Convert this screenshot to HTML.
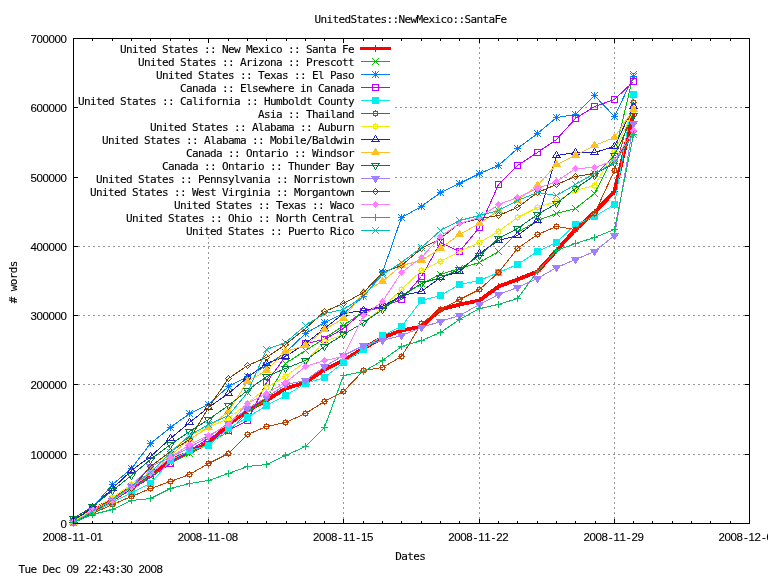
<!DOCTYPE html>
<html lang="en">
<head>
<meta charset="utf-8">
<title>UnitedStates::NewMexico::SantaFe</title>
<style>
html,body{margin:0;padding:0;background:#fff;overflow:hidden}
svg{display:block}
text{font-family:"DejaVu Sans Mono", "Liberation Mono", monospace;font-size:11px;fill:#000;stroke:#000;stroke-width:.12px;white-space:pre;text-anchor:middle}
.n{font-family:"Liberation Sans","DejaVu Sans",sans-serif;font-size:11.5px}
.g{stroke:#999;stroke-width:1;stroke-dasharray:2 3;fill:none}
</style>
</head>
<body>
<svg width="768" height="576" viewBox="0 0 768 576">
<rect width="768" height="576" fill="#fff"/>
<g shape-rendering="crispEdges"><path class="g" d="M73 454.5H749"/><path class="g" d="M73 384.5H749"/><path class="g" d="M73 315.5H749"/><path class="g" d="M73 246.5H749"/><path class="g" d="M395 177.5H749"/><path class="g" d="M395 107.5H749"/><path class="g" d="M208.5 524V237"/><path class="g" d="M343.5 524V237"/><path class="g" d="M479.5 524V39"/><path class="g" d="M614.5 524V39"/></g>
<path d="M73.5 523.5v-4.5M73.5 38.5v4.5M92.8 523.5v-2.5M92.8 38.5v2.5M112.1 523.5v-2.5M112.1 38.5v2.5M131.4 523.5v-2.5M131.4 38.5v2.5M150.8 523.5v-2.5M150.8 38.5v2.5M170.1 523.5v-2.5M170.1 38.5v2.5M189.4 523.5v-2.5M189.4 38.5v2.5M208.7 523.5v-4.5M208.7 38.5v4.5M228.0 523.5v-2.5M228.0 38.5v2.5M247.3 523.5v-2.5M247.3 38.5v2.5M266.6 523.5v-2.5M266.6 38.5v2.5M286.0 523.5v-2.5M286.0 38.5v2.5M305.3 523.5v-2.5M305.3 38.5v2.5M324.6 523.5v-2.5M324.6 38.5v2.5M343.9 523.5v-4.5M343.9 38.5v4.5M363.2 523.5v-2.5M363.2 38.5v2.5M382.5 523.5v-2.5M382.5 38.5v2.5M401.8 523.5v-2.5M401.8 38.5v2.5M421.2 523.5v-2.5M421.2 38.5v2.5M440.5 523.5v-2.5M440.5 38.5v2.5M459.8 523.5v-2.5M459.8 38.5v2.5M479.1 523.5v-4.5M479.1 38.5v4.5M498.4 523.5v-2.5M498.4 38.5v2.5M517.7 523.5v-2.5M517.7 38.5v2.5M537.0 523.5v-2.5M537.0 38.5v2.5M556.4 523.5v-2.5M556.4 38.5v2.5M575.7 523.5v-2.5M575.7 38.5v2.5M595.0 523.5v-2.5M595.0 38.5v2.5M614.3 523.5v-4.5M614.3 38.5v4.5M633.6 523.5v-2.5M633.6 38.5v2.5M652.9 523.5v-2.5M652.9 38.5v2.5M672.2 523.5v-2.5M672.2 38.5v2.5M691.6 523.5v-2.5M691.6 38.5v2.5M710.9 523.5v-2.5M710.9 38.5v2.5M730.2 523.5v-2.5M730.2 38.5v2.5M749.5 523.5v-4.5M749.5 38.5v4.5M73.5 523.5h4.5M749.5 523.5h-4.5M73.5 454.2h4.5M749.5 454.2h-4.5M73.5 384.9h4.5M749.5 384.9h-4.5M73.5 315.6h4.5M749.5 315.6h-4.5M73.5 246.4h4.5M749.5 246.4h-4.5M73.5 177.1h4.5M749.5 177.1h-4.5M73.5 107.8h4.5M749.5 107.8h-4.5M73.5 38.5h4.5M749.5 38.5h-4.5" stroke="#000" stroke-width="1" fill="none" shape-rendering="crispEdges"/>
<g class="s" shape-rendering="crispEdges">
<text x="123.3 129.3 135.3 141.3 147.3 153.3 159.3 165.3 171.3 177.3 183.3 189.3 195.3 201.3 207.3 213.3 219.3 225.3 231.3 237.3 243.3 249.3 255.3 261.3 267.3 273.3 279.3 285.3 291.3 297.3 303.3 309.3 315.3 321.3 327.3 333.3 339.3 345.3 351.3" y="53.2">United States :: New Mexico :: Santa Fe</text>
<path d="M360 48.5H391" stroke="#ff0000" stroke-width="3" fill="none"/>
<path d="M372 48.5H379M375.5 45V52" stroke="#ff0000" fill="none"/>
<polyline points="73.5,521.5 92.5,510.5 112.5,499.5 131.5,487.5 150.5,474.5 170.5,460.5 189.5,452.5 208.5,442.5 228.5,424.5 247.5,410.5 266.5,400.5 285.5,388.5 305.5,382.5 324.5,369.5 343.5,360.5 363.5,348.5 382.5,337.5 401.5,330.5 421.5,326.5 440.5,309.5 459.5,304.5 479.5,300.5 498.5,286.5 517.5,279.5 537.5,271.5 556.5,250.5 575.5,229.5 594.5,212.5 614.5,191.5 633.5,113.5" stroke="#ff0000" stroke-width="3.8" fill="none" stroke-linejoin="round"/>
<path d="M70 521.5H77M73.5 518V525" stroke="#ff0000" fill="none"/><path d="M89 510.5H96M92.5 507V514" stroke="#ff0000" fill="none"/><path d="M109 499.5H116M112.5 496V503" stroke="#ff0000" fill="none"/><path d="M128 487.5H135M131.5 484V491" stroke="#ff0000" fill="none"/><path d="M147 474.5H154M150.5 471V478" stroke="#ff0000" fill="none"/><path d="M167 460.5H174M170.5 457V464" stroke="#ff0000" fill="none"/><path d="M186 452.5H193M189.5 449V456" stroke="#ff0000" fill="none"/><path d="M205 442.5H212M208.5 439V446" stroke="#ff0000" fill="none"/><path d="M225 424.5H232M228.5 421V428" stroke="#ff0000" fill="none"/><path d="M244 410.5H251M247.5 407V414" stroke="#ff0000" fill="none"/><path d="M263 400.5H270M266.5 397V404" stroke="#ff0000" fill="none"/><path d="M282 388.5H289M285.5 385V392" stroke="#ff0000" fill="none"/><path d="M302 382.5H309M305.5 379V386" stroke="#ff0000" fill="none"/><path d="M321 369.5H328M324.5 366V373" stroke="#ff0000" fill="none"/><path d="M340 360.5H347M343.5 357V364" stroke="#ff0000" fill="none"/><path d="M360 348.5H367M363.5 345V352" stroke="#ff0000" fill="none"/><path d="M379 337.5H386M382.5 334V341" stroke="#ff0000" fill="none"/><path d="M398 330.5H405M401.5 327V334" stroke="#ff0000" fill="none"/><path d="M418 326.5H425M421.5 323V330" stroke="#ff0000" fill="none"/><path d="M437 309.5H444M440.5 306V313" stroke="#ff0000" fill="none"/><path d="M456 304.5H463M459.5 301V308" stroke="#ff0000" fill="none"/><path d="M476 300.5H483M479.5 297V304" stroke="#ff0000" fill="none"/><path d="M495 286.5H502M498.5 283V290" stroke="#ff0000" fill="none"/><path d="M514 279.5H521M517.5 276V283" stroke="#ff0000" fill="none"/><path d="M534 271.5H541M537.5 268V275" stroke="#ff0000" fill="none"/><path d="M553 250.5H560M556.5 247V254" stroke="#ff0000" fill="none"/><path d="M572 229.5H579M575.5 226V233" stroke="#ff0000" fill="none"/><path d="M591 212.5H598M594.5 209V216" stroke="#ff0000" fill="none"/><path d="M611 191.5H618M614.5 188V195" stroke="#ff0000" fill="none"/><path d="M630 113.5H637M633.5 110V117" stroke="#ff0000" fill="none"/>
</g>
<g class="s" shape-rendering="crispEdges">
<text x="141.3 147.3 153.3 159.3 165.3 171.3 177.3 183.3 189.3 195.3 201.3 207.3 213.3 219.3 225.3 231.3 237.3 243.3 249.3 255.3 261.3 267.3 273.3 279.3 285.3 291.3 297.3 303.3 309.3 315.3 321.3 327.3 333.3 339.3 345.3 351.3" y="66.2">United States :: Arizona :: Prescott</text>
<path d="M361 61.5H390" stroke="#00c000" stroke-width="1" fill="none"/>
<path d="M372 58L379 65M372 65L379 58" stroke="#00c000" fill="none"/>
<polyline points="73.5,522.5 92.5,511.5 112.5,500.5 131.5,488.5 150.5,476.5 170.5,463.5 189.5,453.5 208.5,443.5 228.5,431.5 247.5,412.5 266.5,399.5 285.5,363.5 305.5,350.5 324.5,338.5 343.5,325.5 363.5,311.5 382.5,307.5 401.5,296.5 421.5,283.5 440.5,274.5 459.5,268.5 479.5,262.5 498.5,251.5 517.5,232.5 537.5,220.5 556.5,213.5 575.5,208.5 594.5,193.5 614.5,154.5 633.5,74.5" stroke="#00c000" stroke-width="1" fill="none" stroke-linejoin="round"/>
<path d="M70 519L77 526M70 526L77 519" stroke="#00c000" fill="none"/><path d="M89 508L96 515M89 515L96 508" stroke="#00c000" fill="none"/><path d="M109 497L116 504M109 504L116 497" stroke="#00c000" fill="none"/><path d="M128 485L135 492M128 492L135 485" stroke="#00c000" fill="none"/><path d="M147 473L154 480M147 480L154 473" stroke="#00c000" fill="none"/><path d="M167 460L174 467M167 467L174 460" stroke="#00c000" fill="none"/><path d="M186 450L193 457M186 457L193 450" stroke="#00c000" fill="none"/><path d="M205 440L212 447M205 447L212 440" stroke="#00c000" fill="none"/><path d="M225 428L232 435M225 435L232 428" stroke="#00c000" fill="none"/><path d="M244 409L251 416M244 416L251 409" stroke="#00c000" fill="none"/><path d="M263 396L270 403M263 403L270 396" stroke="#00c000" fill="none"/><path d="M282 360L289 367M282 367L289 360" stroke="#00c000" fill="none"/><path d="M302 347L309 354M302 354L309 347" stroke="#00c000" fill="none"/><path d="M321 335L328 342M321 342L328 335" stroke="#00c000" fill="none"/><path d="M340 322L347 329M340 329L347 322" stroke="#00c000" fill="none"/><path d="M360 308L367 315M360 315L367 308" stroke="#00c000" fill="none"/><path d="M379 304L386 311M379 311L386 304" stroke="#00c000" fill="none"/><path d="M398 293L405 300M398 300L405 293" stroke="#00c000" fill="none"/><path d="M418 280L425 287M418 287L425 280" stroke="#00c000" fill="none"/><path d="M437 271L444 278M437 278L444 271" stroke="#00c000" fill="none"/><path d="M456 265L463 272M456 272L463 265" stroke="#00c000" fill="none"/><path d="M476 259L483 266M476 266L483 259" stroke="#00c000" fill="none"/><path d="M495 248L502 255M495 255L502 248" stroke="#00c000" fill="none"/><path d="M514 229L521 236M514 236L521 229" stroke="#00c000" fill="none"/><path d="M534 217L541 224M534 224L541 217" stroke="#00c000" fill="none"/><path d="M553 210L560 217M553 217L560 210" stroke="#00c000" fill="none"/><path d="M572 205L579 212M572 212L579 205" stroke="#00c000" fill="none"/><path d="M591 190L598 197M591 197L598 190" stroke="#00c000" fill="none"/><path d="M611 151L618 158M611 158L618 151" stroke="#00c000" fill="none"/><path d="M630 71L637 78M630 78L637 71" stroke="#00c000" fill="none"/>
</g>
<g class="s" shape-rendering="crispEdges">
<text x="159.3 165.3 171.3 177.3 183.3 189.3 195.3 201.3 207.3 213.3 219.3 225.3 231.3 237.3 243.3 249.3 255.3 261.3 267.3 273.3 279.3 285.3 291.3 297.3 303.3 309.3 315.3 321.3 327.3 333.3 339.3 345.3 351.3" y="79.2">United States :: Texas :: El Paso</text>
<path d="M361 74.5H390" stroke="#0080ff" stroke-width="1" fill="none"/>
<path d="M372 74.5H379M375.5 71V78M372 71L379 78M372 78L379 71" stroke="#0080ff" fill="none"/>
<polyline points="73.5,520.5 92.5,507.5 112.5,484.5 131.5,468.5 150.5,443.5 170.5,427.5 189.5,413.5 208.5,404.5 228.5,386.5 247.5,376.5 266.5,365.5 285.5,352.5 305.5,333.5 324.5,322.5 343.5,313.5 363.5,296.5 382.5,272.5 401.5,217.5 421.5,206.5 440.5,192.5 459.5,183.5 479.5,173.5 498.5,165.5 517.5,148.5 537.5,133.5 556.5,117.5 575.5,114.5 594.5,95.5 614.5,116.5 633.5,76.5" stroke="#0080ff" stroke-width="1" fill="none" stroke-linejoin="round"/>
<path d="M70 520.5H77M73.5 517V524M70 517L77 524M70 524L77 517" stroke="#0080ff" fill="none"/><path d="M89 507.5H96M92.5 504V511M89 504L96 511M89 511L96 504" stroke="#0080ff" fill="none"/><path d="M109 484.5H116M112.5 481V488M109 481L116 488M109 488L116 481" stroke="#0080ff" fill="none"/><path d="M128 468.5H135M131.5 465V472M128 465L135 472M128 472L135 465" stroke="#0080ff" fill="none"/><path d="M147 443.5H154M150.5 440V447M147 440L154 447M147 447L154 440" stroke="#0080ff" fill="none"/><path d="M167 427.5H174M170.5 424V431M167 424L174 431M167 431L174 424" stroke="#0080ff" fill="none"/><path d="M186 413.5H193M189.5 410V417M186 410L193 417M186 417L193 410" stroke="#0080ff" fill="none"/><path d="M205 404.5H212M208.5 401V408M205 401L212 408M205 408L212 401" stroke="#0080ff" fill="none"/><path d="M225 386.5H232M228.5 383V390M225 383L232 390M225 390L232 383" stroke="#0080ff" fill="none"/><path d="M244 376.5H251M247.5 373V380M244 373L251 380M244 380L251 373" stroke="#0080ff" fill="none"/><path d="M263 365.5H270M266.5 362V369M263 362L270 369M263 369L270 362" stroke="#0080ff" fill="none"/><path d="M282 352.5H289M285.5 349V356M282 349L289 356M282 356L289 349" stroke="#0080ff" fill="none"/><path d="M302 333.5H309M305.5 330V337M302 330L309 337M302 337L309 330" stroke="#0080ff" fill="none"/><path d="M321 322.5H328M324.5 319V326M321 319L328 326M321 326L328 319" stroke="#0080ff" fill="none"/><path d="M340 313.5H347M343.5 310V317M340 310L347 317M340 317L347 310" stroke="#0080ff" fill="none"/><path d="M360 296.5H367M363.5 293V300M360 293L367 300M360 300L367 293" stroke="#0080ff" fill="none"/><path d="M379 272.5H386M382.5 269V276M379 269L386 276M379 276L386 269" stroke="#0080ff" fill="none"/><path d="M398 217.5H405M401.5 214V221M398 214L405 221M398 221L405 214" stroke="#0080ff" fill="none"/><path d="M418 206.5H425M421.5 203V210M418 203L425 210M418 210L425 203" stroke="#0080ff" fill="none"/><path d="M437 192.5H444M440.5 189V196M437 189L444 196M437 196L444 189" stroke="#0080ff" fill="none"/><path d="M456 183.5H463M459.5 180V187M456 180L463 187M456 187L463 180" stroke="#0080ff" fill="none"/><path d="M476 173.5H483M479.5 170V177M476 170L483 177M476 177L483 170" stroke="#0080ff" fill="none"/><path d="M495 165.5H502M498.5 162V169M495 162L502 169M495 169L502 162" stroke="#0080ff" fill="none"/><path d="M514 148.5H521M517.5 145V152M514 145L521 152M514 152L521 145" stroke="#0080ff" fill="none"/><path d="M534 133.5H541M537.5 130V137M534 130L541 137M534 137L541 130" stroke="#0080ff" fill="none"/><path d="M553 117.5H560M556.5 114V121M553 114L560 121M553 121L560 114" stroke="#0080ff" fill="none"/><path d="M572 114.5H579M575.5 111V118M572 111L579 118M572 118L579 111" stroke="#0080ff" fill="none"/><path d="M591 95.5H598M594.5 92V99M591 92L598 99M591 99L598 92" stroke="#0080ff" fill="none"/><path d="M611 116.5H618M614.5 113V120M611 113L618 120M611 120L618 113" stroke="#0080ff" fill="none"/><path d="M630 76.5H637M633.5 73V80M630 73L637 80M630 80L637 73" stroke="#0080ff" fill="none"/>
</g>
<g class="s" shape-rendering="crispEdges">
<text x="183.3 189.3 195.3 201.3 207.3 213.3 219.3 225.3 231.3 237.3 243.3 249.3 255.3 261.3 267.3 273.3 279.3 285.3 291.3 297.3 303.3 309.3 315.3 321.3 327.3 333.3 339.3 345.3 351.3" y="92.2">Canada :: Elsewhere in Canada</text>
<path d="M361 87.5H390" stroke="#c000ff" stroke-width="1" fill="none"/>
<rect x="372.5" y="84.5" width="6" height="6" stroke="#c000ff" fill="none"/>
<polyline points="73.5,522.5 92.5,511.5 112.5,500.5 131.5,489.5 150.5,477.5 170.5,463.5 189.5,450.5 208.5,438.5 228.5,430.5 247.5,420.5 266.5,382.5 285.5,356.5 305.5,343.5 324.5,339.5 343.5,328.5 363.5,311.5 382.5,306.5 401.5,299.5 421.5,276.5 440.5,242.5 459.5,251.5 479.5,227.5 498.5,184.5 517.5,165.5 537.5,152.5 556.5,139.5 575.5,118.5 594.5,106.5 614.5,99.5 633.5,81.5" stroke="#c000ff" stroke-width="1" fill="none" stroke-linejoin="round"/>
<rect x="70.5" y="519.5" width="6" height="6" stroke="#c000ff" fill="none"/><rect x="89.5" y="508.5" width="6" height="6" stroke="#c000ff" fill="none"/><rect x="109.5" y="497.5" width="6" height="6" stroke="#c000ff" fill="none"/><rect x="128.5" y="486.5" width="6" height="6" stroke="#c000ff" fill="none"/><rect x="147.5" y="474.5" width="6" height="6" stroke="#c000ff" fill="none"/><rect x="167.5" y="460.5" width="6" height="6" stroke="#c000ff" fill="none"/><rect x="186.5" y="447.5" width="6" height="6" stroke="#c000ff" fill="none"/><rect x="205.5" y="435.5" width="6" height="6" stroke="#c000ff" fill="none"/><rect x="225.5" y="427.5" width="6" height="6" stroke="#c000ff" fill="none"/><rect x="244.5" y="417.5" width="6" height="6" stroke="#c000ff" fill="none"/><rect x="263.5" y="379.5" width="6" height="6" stroke="#c000ff" fill="none"/><rect x="282.5" y="353.5" width="6" height="6" stroke="#c000ff" fill="none"/><rect x="302.5" y="340.5" width="6" height="6" stroke="#c000ff" fill="none"/><rect x="321.5" y="336.5" width="6" height="6" stroke="#c000ff" fill="none"/><rect x="340.5" y="325.5" width="6" height="6" stroke="#c000ff" fill="none"/><rect x="360.5" y="308.5" width="6" height="6" stroke="#c000ff" fill="none"/><rect x="379.5" y="303.5" width="6" height="6" stroke="#c000ff" fill="none"/><rect x="398.5" y="296.5" width="6" height="6" stroke="#c000ff" fill="none"/><rect x="418.5" y="273.5" width="6" height="6" stroke="#c000ff" fill="none"/><rect x="437.5" y="239.5" width="6" height="6" stroke="#c000ff" fill="none"/><rect x="456.5" y="248.5" width="6" height="6" stroke="#c000ff" fill="none"/><rect x="476.5" y="224.5" width="6" height="6" stroke="#c000ff" fill="none"/><rect x="495.5" y="181.5" width="6" height="6" stroke="#c000ff" fill="none"/><rect x="514.5" y="162.5" width="6" height="6" stroke="#c000ff" fill="none"/><rect x="534.5" y="149.5" width="6" height="6" stroke="#c000ff" fill="none"/><rect x="553.5" y="136.5" width="6" height="6" stroke="#c000ff" fill="none"/><rect x="572.5" y="115.5" width="6" height="6" stroke="#c000ff" fill="none"/><rect x="591.5" y="103.5" width="6" height="6" stroke="#c000ff" fill="none"/><rect x="611.5" y="96.5" width="6" height="6" stroke="#c000ff" fill="none"/><rect x="630.5" y="78.5" width="6" height="6" stroke="#c000ff" fill="none"/>
</g>
<g class="s" shape-rendering="crispEdges">
<text x="81.3 87.3 93.3 99.3 105.3 111.3 117.3 123.3 129.3 135.3 141.3 147.3 153.3 159.3 165.3 171.3 177.3 183.3 189.3 195.3 201.3 207.3 213.3 219.3 225.3 231.3 237.3 243.3 249.3 255.3 261.3 267.3 273.3 279.3 285.3 291.3 297.3 303.3 309.3 315.3 321.3 327.3 333.3 339.3 345.3 351.3" y="105.2">United States :: California :: Humboldt County</text>
<path d="M361 100.5H390" stroke="#00eeee" stroke-width="1" fill="none"/>
<rect x="372" y="97" width="7" height="7" fill="#00eeee"/>
<polyline points="73.5,522.5 92.5,512.5 112.5,502.5 131.5,492.5 150.5,483.5 170.5,460.5 189.5,450.5 208.5,445.5 228.5,428.5 247.5,417.5 266.5,405.5 285.5,395.5 305.5,383.5 324.5,377.5 343.5,362.5 363.5,349.5 382.5,335.5 401.5,326.5 421.5,300.5 440.5,295.5 459.5,284.5 479.5,280.5 498.5,272.5 517.5,264.5 537.5,251.5 556.5,242.5 575.5,224.5 594.5,216.5 614.5,204.5 633.5,94.5" stroke="#00eeee" stroke-width="1" fill="none" stroke-linejoin="round"/>
<rect x="70" y="519" width="7" height="7" fill="#00eeee"/><rect x="89" y="509" width="7" height="7" fill="#00eeee"/><rect x="109" y="499" width="7" height="7" fill="#00eeee"/><rect x="128" y="489" width="7" height="7" fill="#00eeee"/><rect x="147" y="480" width="7" height="7" fill="#00eeee"/><rect x="167" y="457" width="7" height="7" fill="#00eeee"/><rect x="186" y="447" width="7" height="7" fill="#00eeee"/><rect x="205" y="442" width="7" height="7" fill="#00eeee"/><rect x="225" y="425" width="7" height="7" fill="#00eeee"/><rect x="244" y="414" width="7" height="7" fill="#00eeee"/><rect x="263" y="402" width="7" height="7" fill="#00eeee"/><rect x="282" y="392" width="7" height="7" fill="#00eeee"/><rect x="302" y="380" width="7" height="7" fill="#00eeee"/><rect x="321" y="374" width="7" height="7" fill="#00eeee"/><rect x="340" y="359" width="7" height="7" fill="#00eeee"/><rect x="360" y="346" width="7" height="7" fill="#00eeee"/><rect x="379" y="332" width="7" height="7" fill="#00eeee"/><rect x="398" y="323" width="7" height="7" fill="#00eeee"/><rect x="418" y="297" width="7" height="7" fill="#00eeee"/><rect x="437" y="292" width="7" height="7" fill="#00eeee"/><rect x="456" y="281" width="7" height="7" fill="#00eeee"/><rect x="476" y="277" width="7" height="7" fill="#00eeee"/><rect x="495" y="269" width="7" height="7" fill="#00eeee"/><rect x="514" y="261" width="7" height="7" fill="#00eeee"/><rect x="534" y="248" width="7" height="7" fill="#00eeee"/><rect x="553" y="239" width="7" height="7" fill="#00eeee"/><rect x="572" y="221" width="7" height="7" fill="#00eeee"/><rect x="591" y="213" width="7" height="7" fill="#00eeee"/><rect x="611" y="201" width="7" height="7" fill="#00eeee"/><rect x="630" y="91" width="7" height="7" fill="#00eeee"/>
</g>
<g class="s" shape-rendering="crispEdges">
<text x="261.3 267.3 273.3 279.3 285.3 291.3 297.3 303.3 309.3 315.3 321.3 327.3 333.3 339.3 345.3 351.3" y="118.2">Asia :: Thailand</text>
<path d="M361 113.5H390" stroke="#c04000" stroke-width="1" fill="none"/>
<path d="M373.5 111.5h4v4h-4zM375.5 110v1M375.5 116v1M372 113.5h1M378 113.5h1" stroke="#c04000" fill="none"/>
<polyline points="73.5,522.5 92.5,513.5 112.5,504.5 131.5,496.5 150.5,488.5 170.5,481.5 189.5,474.5 208.5,463.5 228.5,453.5 247.5,434.5 266.5,426.5 285.5,422.5 305.5,413.5 324.5,401.5 343.5,391.5 363.5,370.5 382.5,367.5 401.5,356.5 421.5,323.5 440.5,309.5 459.5,299.5 479.5,289.5 498.5,272.5 517.5,248.5 537.5,234.5 556.5,226.5 575.5,229.5 594.5,213.5 614.5,170.5 633.5,102.5" stroke="#c04000" stroke-width="1" fill="none" stroke-linejoin="round"/>
<path d="M71.5 520.5h4v4h-4zM73.5 519v1M73.5 525v1M70 522.5h1M76 522.5h1" stroke="#c04000" fill="none"/><path d="M90.5 511.5h4v4h-4zM92.5 510v1M92.5 516v1M89 513.5h1M95 513.5h1" stroke="#c04000" fill="none"/><path d="M110.5 502.5h4v4h-4zM112.5 501v1M112.5 507v1M109 504.5h1M115 504.5h1" stroke="#c04000" fill="none"/><path d="M129.5 494.5h4v4h-4zM131.5 493v1M131.5 499v1M128 496.5h1M134 496.5h1" stroke="#c04000" fill="none"/><path d="M148.5 486.5h4v4h-4zM150.5 485v1M150.5 491v1M147 488.5h1M153 488.5h1" stroke="#c04000" fill="none"/><path d="M168.5 479.5h4v4h-4zM170.5 478v1M170.5 484v1M167 481.5h1M173 481.5h1" stroke="#c04000" fill="none"/><path d="M187.5 472.5h4v4h-4zM189.5 471v1M189.5 477v1M186 474.5h1M192 474.5h1" stroke="#c04000" fill="none"/><path d="M206.5 461.5h4v4h-4zM208.5 460v1M208.5 466v1M205 463.5h1M211 463.5h1" stroke="#c04000" fill="none"/><path d="M226.5 451.5h4v4h-4zM228.5 450v1M228.5 456v1M225 453.5h1M231 453.5h1" stroke="#c04000" fill="none"/><path d="M245.5 432.5h4v4h-4zM247.5 431v1M247.5 437v1M244 434.5h1M250 434.5h1" stroke="#c04000" fill="none"/><path d="M264.5 424.5h4v4h-4zM266.5 423v1M266.5 429v1M263 426.5h1M269 426.5h1" stroke="#c04000" fill="none"/><path d="M283.5 420.5h4v4h-4zM285.5 419v1M285.5 425v1M282 422.5h1M288 422.5h1" stroke="#c04000" fill="none"/><path d="M303.5 411.5h4v4h-4zM305.5 410v1M305.5 416v1M302 413.5h1M308 413.5h1" stroke="#c04000" fill="none"/><path d="M322.5 399.5h4v4h-4zM324.5 398v1M324.5 404v1M321 401.5h1M327 401.5h1" stroke="#c04000" fill="none"/><path d="M341.5 389.5h4v4h-4zM343.5 388v1M343.5 394v1M340 391.5h1M346 391.5h1" stroke="#c04000" fill="none"/><path d="M361.5 368.5h4v4h-4zM363.5 367v1M363.5 373v1M360 370.5h1M366 370.5h1" stroke="#c04000" fill="none"/><path d="M380.5 365.5h4v4h-4zM382.5 364v1M382.5 370v1M379 367.5h1M385 367.5h1" stroke="#c04000" fill="none"/><path d="M399.5 354.5h4v4h-4zM401.5 353v1M401.5 359v1M398 356.5h1M404 356.5h1" stroke="#c04000" fill="none"/><path d="M419.5 321.5h4v4h-4zM421.5 320v1M421.5 326v1M418 323.5h1M424 323.5h1" stroke="#c04000" fill="none"/><path d="M438.5 307.5h4v4h-4zM440.5 306v1M440.5 312v1M437 309.5h1M443 309.5h1" stroke="#c04000" fill="none"/><path d="M457.5 297.5h4v4h-4zM459.5 296v1M459.5 302v1M456 299.5h1M462 299.5h1" stroke="#c04000" fill="none"/><path d="M477.5 287.5h4v4h-4zM479.5 286v1M479.5 292v1M476 289.5h1M482 289.5h1" stroke="#c04000" fill="none"/><path d="M496.5 270.5h4v4h-4zM498.5 269v1M498.5 275v1M495 272.5h1M501 272.5h1" stroke="#c04000" fill="none"/><path d="M515.5 246.5h4v4h-4zM517.5 245v1M517.5 251v1M514 248.5h1M520 248.5h1" stroke="#c04000" fill="none"/><path d="M535.5 232.5h4v4h-4zM537.5 231v1M537.5 237v1M534 234.5h1M540 234.5h1" stroke="#c04000" fill="none"/><path d="M554.5 224.5h4v4h-4zM556.5 223v1M556.5 229v1M553 226.5h1M559 226.5h1" stroke="#c04000" fill="none"/><path d="M573.5 227.5h4v4h-4zM575.5 226v1M575.5 232v1M572 229.5h1M578 229.5h1" stroke="#c04000" fill="none"/><path d="M592.5 211.5h4v4h-4zM594.5 210v1M594.5 216v1M591 213.5h1M597 213.5h1" stroke="#c04000" fill="none"/><path d="M612.5 168.5h4v4h-4zM614.5 167v1M614.5 173v1M611 170.5h1M617 170.5h1" stroke="#c04000" fill="none"/><path d="M631.5 100.5h4v4h-4zM633.5 99v1M633.5 105v1M630 102.5h1M636 102.5h1" stroke="#c04000" fill="none"/>
</g>
<g class="s" shape-rendering="crispEdges">
<text x="153.3 159.3 165.3 171.3 177.3 183.3 189.3 195.3 201.3 207.3 213.3 219.3 225.3 231.3 237.3 243.3 249.3 255.3 261.3 267.3 273.3 279.3 285.3 291.3 297.3 303.3 309.3 315.3 321.3 327.3 333.3 339.3 345.3 351.3" y="131.2">United States :: Alabama :: Auburn</text>
<path d="M361 126.5H390" stroke="#eeee00" stroke-width="1" fill="none"/>
<path d="M373.5 124.5h4v4h-4zM375.5 123v1M375.5 129v1M372 126.5h1M378 126.5h1" stroke="#eeee00" fill="none"/>
<polyline points="73.5,521.5 92.5,509.5 112.5,497.5 131.5,484.5 150.5,467.5 170.5,451.5 189.5,435.5 208.5,427.5 228.5,418.5 247.5,403.5 266.5,387.5 285.5,376.5 305.5,361.5 324.5,341.5 343.5,334.5 363.5,322.5 382.5,307.5 401.5,289.5 421.5,270.5 440.5,261.5 459.5,251.5 479.5,242.5 498.5,231.5 517.5,217.5 537.5,207.5 556.5,201.5 575.5,190.5 594.5,185.5 614.5,151.5 633.5,110.5" stroke="#eeee00" stroke-width="1" fill="none" stroke-linejoin="round"/>
<path d="M71.5 519.5h4v4h-4zM73.5 518v1M73.5 524v1M70 521.5h1M76 521.5h1" stroke="#eeee00" fill="none"/><path d="M90.5 507.5h4v4h-4zM92.5 506v1M92.5 512v1M89 509.5h1M95 509.5h1" stroke="#eeee00" fill="none"/><path d="M110.5 495.5h4v4h-4zM112.5 494v1M112.5 500v1M109 497.5h1M115 497.5h1" stroke="#eeee00" fill="none"/><path d="M129.5 482.5h4v4h-4zM131.5 481v1M131.5 487v1M128 484.5h1M134 484.5h1" stroke="#eeee00" fill="none"/><path d="M148.5 465.5h4v4h-4zM150.5 464v1M150.5 470v1M147 467.5h1M153 467.5h1" stroke="#eeee00" fill="none"/><path d="M168.5 449.5h4v4h-4zM170.5 448v1M170.5 454v1M167 451.5h1M173 451.5h1" stroke="#eeee00" fill="none"/><path d="M187.5 433.5h4v4h-4zM189.5 432v1M189.5 438v1M186 435.5h1M192 435.5h1" stroke="#eeee00" fill="none"/><path d="M206.5 425.5h4v4h-4zM208.5 424v1M208.5 430v1M205 427.5h1M211 427.5h1" stroke="#eeee00" fill="none"/><path d="M226.5 416.5h4v4h-4zM228.5 415v1M228.5 421v1M225 418.5h1M231 418.5h1" stroke="#eeee00" fill="none"/><path d="M245.5 401.5h4v4h-4zM247.5 400v1M247.5 406v1M244 403.5h1M250 403.5h1" stroke="#eeee00" fill="none"/><path d="M264.5 385.5h4v4h-4zM266.5 384v1M266.5 390v1M263 387.5h1M269 387.5h1" stroke="#eeee00" fill="none"/><path d="M283.5 374.5h4v4h-4zM285.5 373v1M285.5 379v1M282 376.5h1M288 376.5h1" stroke="#eeee00" fill="none"/><path d="M303.5 359.5h4v4h-4zM305.5 358v1M305.5 364v1M302 361.5h1M308 361.5h1" stroke="#eeee00" fill="none"/><path d="M322.5 339.5h4v4h-4zM324.5 338v1M324.5 344v1M321 341.5h1M327 341.5h1" stroke="#eeee00" fill="none"/><path d="M341.5 332.5h4v4h-4zM343.5 331v1M343.5 337v1M340 334.5h1M346 334.5h1" stroke="#eeee00" fill="none"/><path d="M361.5 320.5h4v4h-4zM363.5 319v1M363.5 325v1M360 322.5h1M366 322.5h1" stroke="#eeee00" fill="none"/><path d="M380.5 305.5h4v4h-4zM382.5 304v1M382.5 310v1M379 307.5h1M385 307.5h1" stroke="#eeee00" fill="none"/><path d="M399.5 287.5h4v4h-4zM401.5 286v1M401.5 292v1M398 289.5h1M404 289.5h1" stroke="#eeee00" fill="none"/><path d="M419.5 268.5h4v4h-4zM421.5 267v1M421.5 273v1M418 270.5h1M424 270.5h1" stroke="#eeee00" fill="none"/><path d="M438.5 259.5h4v4h-4zM440.5 258v1M440.5 264v1M437 261.5h1M443 261.5h1" stroke="#eeee00" fill="none"/><path d="M457.5 249.5h4v4h-4zM459.5 248v1M459.5 254v1M456 251.5h1M462 251.5h1" stroke="#eeee00" fill="none"/><path d="M477.5 240.5h4v4h-4zM479.5 239v1M479.5 245v1M476 242.5h1M482 242.5h1" stroke="#eeee00" fill="none"/><path d="M496.5 229.5h4v4h-4zM498.5 228v1M498.5 234v1M495 231.5h1M501 231.5h1" stroke="#eeee00" fill="none"/><path d="M515.5 215.5h4v4h-4zM517.5 214v1M517.5 220v1M514 217.5h1M520 217.5h1" stroke="#eeee00" fill="none"/><path d="M535.5 205.5h4v4h-4zM537.5 204v1M537.5 210v1M534 207.5h1M540 207.5h1" stroke="#eeee00" fill="none"/><path d="M554.5 199.5h4v4h-4zM556.5 198v1M556.5 204v1M553 201.5h1M559 201.5h1" stroke="#eeee00" fill="none"/><path d="M573.5 188.5h4v4h-4zM575.5 187v1M575.5 193v1M572 190.5h1M578 190.5h1" stroke="#eeee00" fill="none"/><path d="M592.5 183.5h4v4h-4zM594.5 182v1M594.5 188v1M591 185.5h1M597 185.5h1" stroke="#eeee00" fill="none"/><path d="M612.5 149.5h4v4h-4zM614.5 148v1M614.5 154v1M611 151.5h1M617 151.5h1" stroke="#eeee00" fill="none"/><path d="M631.5 108.5h4v4h-4zM633.5 107v1M633.5 113v1M630 110.5h1M636 110.5h1" stroke="#eeee00" fill="none"/>
</g>
<g class="s" shape-rendering="crispEdges">
<text x="105.3 111.3 117.3 123.3 129.3 135.3 141.3 147.3 153.3 159.3 165.3 171.3 177.3 183.3 189.3 195.3 201.3 207.3 213.3 219.3 225.3 231.3 237.3 243.3 249.3 255.3 261.3 267.3 273.3 279.3 285.3 291.3 297.3 303.3 309.3 315.3 321.3 327.3 333.3 339.3 345.3 351.3" y="144.2">United States :: Alabama :: Mobile/Baldwin</text>
<path d="M361 139.5H390" stroke="#2020c0" stroke-width="1" fill="none"/>
<path d="M375.5 135.5L379.5 141.5L371.5 141.5Z" stroke="#2020c0" fill="none"/>
<polyline points="73.5,520.5 92.5,507.5 112.5,488.5 131.5,470.5 150.5,456.5 170.5,438.5 189.5,422.5 208.5,407.5 228.5,393.5 247.5,377.5 266.5,363.5 285.5,356.5 305.5,343.5 324.5,328.5 343.5,313.5 363.5,310.5 382.5,306.5 401.5,295.5 421.5,291.5 440.5,277.5 459.5,271.5 479.5,253.5 498.5,240.5 517.5,235.5 537.5,220.5 556.5,155.5 575.5,152.5 594.5,152.5 614.5,146.5 633.5,106.5" stroke="#2020c0" stroke-width="1" fill="none" stroke-linejoin="round"/>
<path d="M73.5 516.5L77.5 522.5L69.5 522.5Z" stroke="#2020c0" fill="none"/><path d="M92.5 503.5L96.5 509.5L88.5 509.5Z" stroke="#2020c0" fill="none"/><path d="M112.5 484.5L116.5 490.5L108.5 490.5Z" stroke="#2020c0" fill="none"/><path d="M131.5 466.5L135.5 472.5L127.5 472.5Z" stroke="#2020c0" fill="none"/><path d="M150.5 452.5L154.5 458.5L146.5 458.5Z" stroke="#2020c0" fill="none"/><path d="M170.5 434.5L174.5 440.5L166.5 440.5Z" stroke="#2020c0" fill="none"/><path d="M189.5 418.5L193.5 424.5L185.5 424.5Z" stroke="#2020c0" fill="none"/><path d="M208.5 403.5L212.5 409.5L204.5 409.5Z" stroke="#2020c0" fill="none"/><path d="M228.5 389.5L232.5 395.5L224.5 395.5Z" stroke="#2020c0" fill="none"/><path d="M247.5 373.5L251.5 379.5L243.5 379.5Z" stroke="#2020c0" fill="none"/><path d="M266.5 359.5L270.5 365.5L262.5 365.5Z" stroke="#2020c0" fill="none"/><path d="M285.5 352.5L289.5 358.5L281.5 358.5Z" stroke="#2020c0" fill="none"/><path d="M305.5 339.5L309.5 345.5L301.5 345.5Z" stroke="#2020c0" fill="none"/><path d="M324.5 324.5L328.5 330.5L320.5 330.5Z" stroke="#2020c0" fill="none"/><path d="M343.5 309.5L347.5 315.5L339.5 315.5Z" stroke="#2020c0" fill="none"/><path d="M363.5 306.5L367.5 312.5L359.5 312.5Z" stroke="#2020c0" fill="none"/><path d="M382.5 302.5L386.5 308.5L378.5 308.5Z" stroke="#2020c0" fill="none"/><path d="M401.5 291.5L405.5 297.5L397.5 297.5Z" stroke="#2020c0" fill="none"/><path d="M421.5 287.5L425.5 293.5L417.5 293.5Z" stroke="#2020c0" fill="none"/><path d="M440.5 273.5L444.5 279.5L436.5 279.5Z" stroke="#2020c0" fill="none"/><path d="M459.5 267.5L463.5 273.5L455.5 273.5Z" stroke="#2020c0" fill="none"/><path d="M479.5 249.5L483.5 255.5L475.5 255.5Z" stroke="#2020c0" fill="none"/><path d="M498.5 236.5L502.5 242.5L494.5 242.5Z" stroke="#2020c0" fill="none"/><path d="M517.5 231.5L521.5 237.5L513.5 237.5Z" stroke="#2020c0" fill="none"/><path d="M537.5 216.5L541.5 222.5L533.5 222.5Z" stroke="#2020c0" fill="none"/><path d="M556.5 151.5L560.5 157.5L552.5 157.5Z" stroke="#2020c0" fill="none"/><path d="M575.5 148.5L579.5 154.5L571.5 154.5Z" stroke="#2020c0" fill="none"/><path d="M594.5 148.5L598.5 154.5L590.5 154.5Z" stroke="#2020c0" fill="none"/><path d="M614.5 142.5L618.5 148.5L610.5 148.5Z" stroke="#2020c0" fill="none"/><path d="M633.5 102.5L637.5 108.5L629.5 108.5Z" stroke="#2020c0" fill="none"/>
</g>
<g class="s" shape-rendering="crispEdges">
<text x="189.3 195.3 201.3 207.3 213.3 219.3 225.3 231.3 237.3 243.3 249.3 255.3 261.3 267.3 273.3 279.3 285.3 291.3 297.3 303.3 309.3 315.3 321.3 327.3 333.3 339.3 345.3 351.3" y="157.2">Canada :: Ontario :: Windsor</text>
<path d="M361 152.5H390" stroke="#ffc020" stroke-width="1" fill="none"/>
<path d="M375.5 148.5L379.5 154.5L371.5 154.5Z" stroke="#ffc020" fill="#ffc020"/>
<polyline points="73.5,522.5 92.5,511.5 112.5,500.5 131.5,486.5 150.5,471.5 170.5,455.5 189.5,439.5 208.5,427.5 228.5,411.5 247.5,381.5 266.5,370.5 285.5,351.5 305.5,345.5 324.5,329.5 343.5,318.5 363.5,292.5 382.5,281.5 401.5,265.5 421.5,260.5 440.5,248.5 459.5,234.5 479.5,223.5 498.5,210.5 517.5,200.5 537.5,185.5 556.5,164.5 575.5,155.5 594.5,145.5 614.5,137.5 633.5,109.5" stroke="#ffc020" stroke-width="1" fill="none" stroke-linejoin="round"/>
<path d="M73.5 518.5L77.5 524.5L69.5 524.5Z" stroke="#ffc020" fill="#ffc020"/><path d="M92.5 507.5L96.5 513.5L88.5 513.5Z" stroke="#ffc020" fill="#ffc020"/><path d="M112.5 496.5L116.5 502.5L108.5 502.5Z" stroke="#ffc020" fill="#ffc020"/><path d="M131.5 482.5L135.5 488.5L127.5 488.5Z" stroke="#ffc020" fill="#ffc020"/><path d="M150.5 467.5L154.5 473.5L146.5 473.5Z" stroke="#ffc020" fill="#ffc020"/><path d="M170.5 451.5L174.5 457.5L166.5 457.5Z" stroke="#ffc020" fill="#ffc020"/><path d="M189.5 435.5L193.5 441.5L185.5 441.5Z" stroke="#ffc020" fill="#ffc020"/><path d="M208.5 423.5L212.5 429.5L204.5 429.5Z" stroke="#ffc020" fill="#ffc020"/><path d="M228.5 407.5L232.5 413.5L224.5 413.5Z" stroke="#ffc020" fill="#ffc020"/><path d="M247.5 377.5L251.5 383.5L243.5 383.5Z" stroke="#ffc020" fill="#ffc020"/><path d="M266.5 366.5L270.5 372.5L262.5 372.5Z" stroke="#ffc020" fill="#ffc020"/><path d="M285.5 347.5L289.5 353.5L281.5 353.5Z" stroke="#ffc020" fill="#ffc020"/><path d="M305.5 341.5L309.5 347.5L301.5 347.5Z" stroke="#ffc020" fill="#ffc020"/><path d="M324.5 325.5L328.5 331.5L320.5 331.5Z" stroke="#ffc020" fill="#ffc020"/><path d="M343.5 314.5L347.5 320.5L339.5 320.5Z" stroke="#ffc020" fill="#ffc020"/><path d="M363.5 288.5L367.5 294.5L359.5 294.5Z" stroke="#ffc020" fill="#ffc020"/><path d="M382.5 277.5L386.5 283.5L378.5 283.5Z" stroke="#ffc020" fill="#ffc020"/><path d="M401.5 261.5L405.5 267.5L397.5 267.5Z" stroke="#ffc020" fill="#ffc020"/><path d="M421.5 256.5L425.5 262.5L417.5 262.5Z" stroke="#ffc020" fill="#ffc020"/><path d="M440.5 244.5L444.5 250.5L436.5 250.5Z" stroke="#ffc020" fill="#ffc020"/><path d="M459.5 230.5L463.5 236.5L455.5 236.5Z" stroke="#ffc020" fill="#ffc020"/><path d="M479.5 219.5L483.5 225.5L475.5 225.5Z" stroke="#ffc020" fill="#ffc020"/><path d="M498.5 206.5L502.5 212.5L494.5 212.5Z" stroke="#ffc020" fill="#ffc020"/><path d="M517.5 196.5L521.5 202.5L513.5 202.5Z" stroke="#ffc020" fill="#ffc020"/><path d="M537.5 181.5L541.5 187.5L533.5 187.5Z" stroke="#ffc020" fill="#ffc020"/><path d="M556.5 160.5L560.5 166.5L552.5 166.5Z" stroke="#ffc020" fill="#ffc020"/><path d="M575.5 151.5L579.5 157.5L571.5 157.5Z" stroke="#ffc020" fill="#ffc020"/><path d="M594.5 141.5L598.5 147.5L590.5 147.5Z" stroke="#ffc020" fill="#ffc020"/><path d="M614.5 133.5L618.5 139.5L610.5 139.5Z" stroke="#ffc020" fill="#ffc020"/><path d="M633.5 105.5L637.5 111.5L629.5 111.5Z" stroke="#ffc020" fill="#ffc020"/>
</g>
<g class="s" shape-rendering="crispEdges">
<text x="165.3 171.3 177.3 183.3 189.3 195.3 201.3 207.3 213.3 219.3 225.3 231.3 237.3 243.3 249.3 255.3 261.3 267.3 273.3 279.3 285.3 291.3 297.3 303.3 309.3 315.3 321.3 327.3 333.3 339.3 345.3 351.3" y="170.2">Canada :: Ontario :: Thunder Bay</text>
<path d="M361 165.5H390" stroke="#008040" stroke-width="1" fill="none"/>
<path d="M375.5 169.5L379.5 163.5L371.5 163.5Z" stroke="#008040" fill="none"/>
<polyline points="73.5,518.5 92.5,506.5 112.5,490.5 131.5,475.5 150.5,459.5 170.5,444.5 189.5,431.5 208.5,419.5 228.5,405.5 247.5,390.5 266.5,376.5 285.5,368.5 305.5,360.5 324.5,346.5 343.5,334.5 363.5,322.5 382.5,309.5 401.5,295.5 421.5,283.5 440.5,277.5 459.5,269.5 479.5,255.5 498.5,238.5 517.5,228.5 537.5,214.5 556.5,203.5 575.5,188.5 594.5,175.5 614.5,155.5 633.5,115.5" stroke="#008040" stroke-width="1" fill="none" stroke-linejoin="round"/>
<path d="M73.5 522.5L77.5 516.5L69.5 516.5Z" stroke="#008040" fill="none"/><path d="M92.5 510.5L96.5 504.5L88.5 504.5Z" stroke="#008040" fill="none"/><path d="M112.5 494.5L116.5 488.5L108.5 488.5Z" stroke="#008040" fill="none"/><path d="M131.5 479.5L135.5 473.5L127.5 473.5Z" stroke="#008040" fill="none"/><path d="M150.5 463.5L154.5 457.5L146.5 457.5Z" stroke="#008040" fill="none"/><path d="M170.5 448.5L174.5 442.5L166.5 442.5Z" stroke="#008040" fill="none"/><path d="M189.5 435.5L193.5 429.5L185.5 429.5Z" stroke="#008040" fill="none"/><path d="M208.5 423.5L212.5 417.5L204.5 417.5Z" stroke="#008040" fill="none"/><path d="M228.5 409.5L232.5 403.5L224.5 403.5Z" stroke="#008040" fill="none"/><path d="M247.5 394.5L251.5 388.5L243.5 388.5Z" stroke="#008040" fill="none"/><path d="M266.5 380.5L270.5 374.5L262.5 374.5Z" stroke="#008040" fill="none"/><path d="M285.5 372.5L289.5 366.5L281.5 366.5Z" stroke="#008040" fill="none"/><path d="M305.5 364.5L309.5 358.5L301.5 358.5Z" stroke="#008040" fill="none"/><path d="M324.5 350.5L328.5 344.5L320.5 344.5Z" stroke="#008040" fill="none"/><path d="M343.5 338.5L347.5 332.5L339.5 332.5Z" stroke="#008040" fill="none"/><path d="M363.5 326.5L367.5 320.5L359.5 320.5Z" stroke="#008040" fill="none"/><path d="M382.5 313.5L386.5 307.5L378.5 307.5Z" stroke="#008040" fill="none"/><path d="M401.5 299.5L405.5 293.5L397.5 293.5Z" stroke="#008040" fill="none"/><path d="M421.5 287.5L425.5 281.5L417.5 281.5Z" stroke="#008040" fill="none"/><path d="M440.5 281.5L444.5 275.5L436.5 275.5Z" stroke="#008040" fill="none"/><path d="M459.5 273.5L463.5 267.5L455.5 267.5Z" stroke="#008040" fill="none"/><path d="M479.5 259.5L483.5 253.5L475.5 253.5Z" stroke="#008040" fill="none"/><path d="M498.5 242.5L502.5 236.5L494.5 236.5Z" stroke="#008040" fill="none"/><path d="M517.5 232.5L521.5 226.5L513.5 226.5Z" stroke="#008040" fill="none"/><path d="M537.5 218.5L541.5 212.5L533.5 212.5Z" stroke="#008040" fill="none"/><path d="M556.5 207.5L560.5 201.5L552.5 201.5Z" stroke="#008040" fill="none"/><path d="M575.5 192.5L579.5 186.5L571.5 186.5Z" stroke="#008040" fill="none"/><path d="M594.5 179.5L598.5 173.5L590.5 173.5Z" stroke="#008040" fill="none"/><path d="M614.5 159.5L618.5 153.5L610.5 153.5Z" stroke="#008040" fill="none"/><path d="M633.5 119.5L637.5 113.5L629.5 113.5Z" stroke="#008040" fill="none"/>
</g>
<g class="s" shape-rendering="crispEdges">
<text x="99.3 105.3 111.3 117.3 123.3 129.3 135.3 141.3 147.3 153.3 159.3 165.3 171.3 177.3 183.3 189.3 195.3 201.3 207.3 213.3 219.3 225.3 231.3 237.3 243.3 249.3 255.3 261.3 267.3 273.3 279.3 285.3 291.3 297.3 303.3 309.3 315.3 321.3 327.3 333.3 339.3 345.3 351.3" y="183.2">United States :: Pennsylvania :: Norristown</text>
<path d="M361 178.5H390" stroke="#a080ff" stroke-width="1" fill="none"/>
<path d="M375.5 182.5L379.5 176.5L371.5 176.5Z" stroke="#a080ff" fill="#a080ff"/>
<polyline points="73.5,522.5 92.5,510.5 112.5,500.5 131.5,486.5 150.5,466.5 170.5,457.5 189.5,447.5 208.5,436.5 228.5,423.5 247.5,408.5 266.5,397.5 285.5,384.5 305.5,380.5 324.5,366.5 343.5,355.5 363.5,345.5 382.5,340.5 401.5,335.5 421.5,327.5 440.5,321.5 459.5,315.5 479.5,304.5 498.5,294.5 517.5,287.5 537.5,278.5 556.5,267.5 575.5,259.5 594.5,251.5 614.5,235.5 633.5,123.5" stroke="#a080ff" stroke-width="1" fill="none" stroke-linejoin="round"/>
<path d="M73.5 526.5L77.5 520.5L69.5 520.5Z" stroke="#a080ff" fill="#a080ff"/><path d="M92.5 514.5L96.5 508.5L88.5 508.5Z" stroke="#a080ff" fill="#a080ff"/><path d="M112.5 504.5L116.5 498.5L108.5 498.5Z" stroke="#a080ff" fill="#a080ff"/><path d="M131.5 490.5L135.5 484.5L127.5 484.5Z" stroke="#a080ff" fill="#a080ff"/><path d="M150.5 470.5L154.5 464.5L146.5 464.5Z" stroke="#a080ff" fill="#a080ff"/><path d="M170.5 461.5L174.5 455.5L166.5 455.5Z" stroke="#a080ff" fill="#a080ff"/><path d="M189.5 451.5L193.5 445.5L185.5 445.5Z" stroke="#a080ff" fill="#a080ff"/><path d="M208.5 440.5L212.5 434.5L204.5 434.5Z" stroke="#a080ff" fill="#a080ff"/><path d="M228.5 427.5L232.5 421.5L224.5 421.5Z" stroke="#a080ff" fill="#a080ff"/><path d="M247.5 412.5L251.5 406.5L243.5 406.5Z" stroke="#a080ff" fill="#a080ff"/><path d="M266.5 401.5L270.5 395.5L262.5 395.5Z" stroke="#a080ff" fill="#a080ff"/><path d="M285.5 388.5L289.5 382.5L281.5 382.5Z" stroke="#a080ff" fill="#a080ff"/><path d="M305.5 384.5L309.5 378.5L301.5 378.5Z" stroke="#a080ff" fill="#a080ff"/><path d="M324.5 370.5L328.5 364.5L320.5 364.5Z" stroke="#a080ff" fill="#a080ff"/><path d="M343.5 359.5L347.5 353.5L339.5 353.5Z" stroke="#a080ff" fill="#a080ff"/><path d="M363.5 349.5L367.5 343.5L359.5 343.5Z" stroke="#a080ff" fill="#a080ff"/><path d="M382.5 344.5L386.5 338.5L378.5 338.5Z" stroke="#a080ff" fill="#a080ff"/><path d="M401.5 339.5L405.5 333.5L397.5 333.5Z" stroke="#a080ff" fill="#a080ff"/><path d="M421.5 331.5L425.5 325.5L417.5 325.5Z" stroke="#a080ff" fill="#a080ff"/><path d="M440.5 325.5L444.5 319.5L436.5 319.5Z" stroke="#a080ff" fill="#a080ff"/><path d="M459.5 319.5L463.5 313.5L455.5 313.5Z" stroke="#a080ff" fill="#a080ff"/><path d="M479.5 308.5L483.5 302.5L475.5 302.5Z" stroke="#a080ff" fill="#a080ff"/><path d="M498.5 298.5L502.5 292.5L494.5 292.5Z" stroke="#a080ff" fill="#a080ff"/><path d="M517.5 291.5L521.5 285.5L513.5 285.5Z" stroke="#a080ff" fill="#a080ff"/><path d="M537.5 282.5L541.5 276.5L533.5 276.5Z" stroke="#a080ff" fill="#a080ff"/><path d="M556.5 271.5L560.5 265.5L552.5 265.5Z" stroke="#a080ff" fill="#a080ff"/><path d="M575.5 263.5L579.5 257.5L571.5 257.5Z" stroke="#a080ff" fill="#a080ff"/><path d="M594.5 255.5L598.5 249.5L590.5 249.5Z" stroke="#a080ff" fill="#a080ff"/><path d="M614.5 239.5L618.5 233.5L610.5 233.5Z" stroke="#a080ff" fill="#a080ff"/><path d="M633.5 127.5L637.5 121.5L629.5 121.5Z" stroke="#a080ff" fill="#a080ff"/>
</g>
<g class="s" shape-rendering="crispEdges">
<text x="93.3 99.3 105.3 111.3 117.3 123.3 129.3 135.3 141.3 147.3 153.3 159.3 165.3 171.3 177.3 183.3 189.3 195.3 201.3 207.3 213.3 219.3 225.3 231.3 237.3 243.3 249.3 255.3 261.3 267.3 273.3 279.3 285.3 291.3 297.3 303.3 309.3 315.3 321.3 327.3 333.3 339.3 345.3 351.3" y="196.2">United States :: West Virginia :: Morgantown</text>
<path d="M361 191.5H390" stroke="#804000" stroke-width="1" fill="none"/>
<path d="M375.5 188.5L378.5 191.5L375.5 194.5L372.5 191.5Z" stroke="#804000" fill="none"/>
<polyline points="73.5,522.5 92.5,512.5 112.5,500.5 131.5,488.5 150.5,466.5 170.5,451.5 189.5,439.5 208.5,407.5 228.5,378.5 247.5,365.5 266.5,357.5 285.5,344.5 305.5,328.5 324.5,311.5 343.5,303.5 363.5,292.5 382.5,272.5 401.5,265.5 421.5,248.5 440.5,238.5 459.5,223.5 479.5,218.5 498.5,215.5 517.5,207.5 537.5,192.5 556.5,184.5 575.5,176.5 594.5,173.5 614.5,163.5 633.5,130.5" stroke="#804000" stroke-width="1" fill="none" stroke-linejoin="round"/>
<path d="M73.5 519.5L76.5 522.5L73.5 525.5L70.5 522.5Z" stroke="#804000" fill="none"/><path d="M92.5 509.5L95.5 512.5L92.5 515.5L89.5 512.5Z" stroke="#804000" fill="none"/><path d="M112.5 497.5L115.5 500.5L112.5 503.5L109.5 500.5Z" stroke="#804000" fill="none"/><path d="M131.5 485.5L134.5 488.5L131.5 491.5L128.5 488.5Z" stroke="#804000" fill="none"/><path d="M150.5 463.5L153.5 466.5L150.5 469.5L147.5 466.5Z" stroke="#804000" fill="none"/><path d="M170.5 448.5L173.5 451.5L170.5 454.5L167.5 451.5Z" stroke="#804000" fill="none"/><path d="M189.5 436.5L192.5 439.5L189.5 442.5L186.5 439.5Z" stroke="#804000" fill="none"/><path d="M208.5 404.5L211.5 407.5L208.5 410.5L205.5 407.5Z" stroke="#804000" fill="none"/><path d="M228.5 375.5L231.5 378.5L228.5 381.5L225.5 378.5Z" stroke="#804000" fill="none"/><path d="M247.5 362.5L250.5 365.5L247.5 368.5L244.5 365.5Z" stroke="#804000" fill="none"/><path d="M266.5 354.5L269.5 357.5L266.5 360.5L263.5 357.5Z" stroke="#804000" fill="none"/><path d="M285.5 341.5L288.5 344.5L285.5 347.5L282.5 344.5Z" stroke="#804000" fill="none"/><path d="M305.5 325.5L308.5 328.5L305.5 331.5L302.5 328.5Z" stroke="#804000" fill="none"/><path d="M324.5 308.5L327.5 311.5L324.5 314.5L321.5 311.5Z" stroke="#804000" fill="none"/><path d="M343.5 300.5L346.5 303.5L343.5 306.5L340.5 303.5Z" stroke="#804000" fill="none"/><path d="M363.5 289.5L366.5 292.5L363.5 295.5L360.5 292.5Z" stroke="#804000" fill="none"/><path d="M382.5 269.5L385.5 272.5L382.5 275.5L379.5 272.5Z" stroke="#804000" fill="none"/><path d="M401.5 262.5L404.5 265.5L401.5 268.5L398.5 265.5Z" stroke="#804000" fill="none"/><path d="M421.5 245.5L424.5 248.5L421.5 251.5L418.5 248.5Z" stroke="#804000" fill="none"/><path d="M440.5 235.5L443.5 238.5L440.5 241.5L437.5 238.5Z" stroke="#804000" fill="none"/><path d="M459.5 220.5L462.5 223.5L459.5 226.5L456.5 223.5Z" stroke="#804000" fill="none"/><path d="M479.5 215.5L482.5 218.5L479.5 221.5L476.5 218.5Z" stroke="#804000" fill="none"/><path d="M498.5 212.5L501.5 215.5L498.5 218.5L495.5 215.5Z" stroke="#804000" fill="none"/><path d="M517.5 204.5L520.5 207.5L517.5 210.5L514.5 207.5Z" stroke="#804000" fill="none"/><path d="M537.5 189.5L540.5 192.5L537.5 195.5L534.5 192.5Z" stroke="#804000" fill="none"/><path d="M556.5 181.5L559.5 184.5L556.5 187.5L553.5 184.5Z" stroke="#804000" fill="none"/><path d="M575.5 173.5L578.5 176.5L575.5 179.5L572.5 176.5Z" stroke="#804000" fill="none"/><path d="M594.5 170.5L597.5 173.5L594.5 176.5L591.5 173.5Z" stroke="#804000" fill="none"/><path d="M614.5 160.5L617.5 163.5L614.5 166.5L611.5 163.5Z" stroke="#804000" fill="none"/><path d="M633.5 127.5L636.5 130.5L633.5 133.5L630.5 130.5Z" stroke="#804000" fill="none"/>
</g>
<g class="s" shape-rendering="crispEdges">
<text x="177.3 183.3 189.3 195.3 201.3 207.3 213.3 219.3 225.3 231.3 237.3 243.3 249.3 255.3 261.3 267.3 273.3 279.3 285.3 291.3 297.3 303.3 309.3 315.3 321.3 327.3 333.3 339.3 345.3 351.3" y="209.2">United States :: Texas :: Waco</text>
<path d="M361 204.5H390" stroke="#ff80ff" stroke-width="1" fill="none"/>
<path d="M375.5 201.5L378.5 204.5L375.5 207.5L372.5 204.5Z" stroke="#ff80ff" fill="#ff80ff"/>
<polyline points="73.5,522.5 92.5,510.5 112.5,500.5 131.5,487.5 150.5,473.5 170.5,457.5 189.5,444.5 208.5,435.5 228.5,424.5 247.5,403.5 266.5,393.5 285.5,382.5 305.5,366.5 324.5,360.5 343.5,356.5 363.5,315.5 382.5,301.5 401.5,272.5 421.5,257.5 440.5,236.5 459.5,223.5 479.5,217.5 498.5,204.5 517.5,197.5 537.5,188.5 556.5,181.5 575.5,168.5 594.5,167.5 614.5,160.5 633.5,130.5" stroke="#ff80ff" stroke-width="1" fill="none" stroke-linejoin="round"/>
<path d="M73.5 519.5L76.5 522.5L73.5 525.5L70.5 522.5Z" stroke="#ff80ff" fill="#ff80ff"/><path d="M92.5 507.5L95.5 510.5L92.5 513.5L89.5 510.5Z" stroke="#ff80ff" fill="#ff80ff"/><path d="M112.5 497.5L115.5 500.5L112.5 503.5L109.5 500.5Z" stroke="#ff80ff" fill="#ff80ff"/><path d="M131.5 484.5L134.5 487.5L131.5 490.5L128.5 487.5Z" stroke="#ff80ff" fill="#ff80ff"/><path d="M150.5 470.5L153.5 473.5L150.5 476.5L147.5 473.5Z" stroke="#ff80ff" fill="#ff80ff"/><path d="M170.5 454.5L173.5 457.5L170.5 460.5L167.5 457.5Z" stroke="#ff80ff" fill="#ff80ff"/><path d="M189.5 441.5L192.5 444.5L189.5 447.5L186.5 444.5Z" stroke="#ff80ff" fill="#ff80ff"/><path d="M208.5 432.5L211.5 435.5L208.5 438.5L205.5 435.5Z" stroke="#ff80ff" fill="#ff80ff"/><path d="M228.5 421.5L231.5 424.5L228.5 427.5L225.5 424.5Z" stroke="#ff80ff" fill="#ff80ff"/><path d="M247.5 400.5L250.5 403.5L247.5 406.5L244.5 403.5Z" stroke="#ff80ff" fill="#ff80ff"/><path d="M266.5 390.5L269.5 393.5L266.5 396.5L263.5 393.5Z" stroke="#ff80ff" fill="#ff80ff"/><path d="M285.5 379.5L288.5 382.5L285.5 385.5L282.5 382.5Z" stroke="#ff80ff" fill="#ff80ff"/><path d="M305.5 363.5L308.5 366.5L305.5 369.5L302.5 366.5Z" stroke="#ff80ff" fill="#ff80ff"/><path d="M324.5 357.5L327.5 360.5L324.5 363.5L321.5 360.5Z" stroke="#ff80ff" fill="#ff80ff"/><path d="M343.5 353.5L346.5 356.5L343.5 359.5L340.5 356.5Z" stroke="#ff80ff" fill="#ff80ff"/><path d="M363.5 312.5L366.5 315.5L363.5 318.5L360.5 315.5Z" stroke="#ff80ff" fill="#ff80ff"/><path d="M382.5 298.5L385.5 301.5L382.5 304.5L379.5 301.5Z" stroke="#ff80ff" fill="#ff80ff"/><path d="M401.5 269.5L404.5 272.5L401.5 275.5L398.5 272.5Z" stroke="#ff80ff" fill="#ff80ff"/><path d="M421.5 254.5L424.5 257.5L421.5 260.5L418.5 257.5Z" stroke="#ff80ff" fill="#ff80ff"/><path d="M440.5 233.5L443.5 236.5L440.5 239.5L437.5 236.5Z" stroke="#ff80ff" fill="#ff80ff"/><path d="M459.5 220.5L462.5 223.5L459.5 226.5L456.5 223.5Z" stroke="#ff80ff" fill="#ff80ff"/><path d="M479.5 214.5L482.5 217.5L479.5 220.5L476.5 217.5Z" stroke="#ff80ff" fill="#ff80ff"/><path d="M498.5 201.5L501.5 204.5L498.5 207.5L495.5 204.5Z" stroke="#ff80ff" fill="#ff80ff"/><path d="M517.5 194.5L520.5 197.5L517.5 200.5L514.5 197.5Z" stroke="#ff80ff" fill="#ff80ff"/><path d="M537.5 185.5L540.5 188.5L537.5 191.5L534.5 188.5Z" stroke="#ff80ff" fill="#ff80ff"/><path d="M556.5 178.5L559.5 181.5L556.5 184.5L553.5 181.5Z" stroke="#ff80ff" fill="#ff80ff"/><path d="M575.5 165.5L578.5 168.5L575.5 171.5L572.5 168.5Z" stroke="#ff80ff" fill="#ff80ff"/><path d="M594.5 164.5L597.5 167.5L594.5 170.5L591.5 167.5Z" stroke="#ff80ff" fill="#ff80ff"/><path d="M614.5 157.5L617.5 160.5L614.5 163.5L611.5 160.5Z" stroke="#ff80ff" fill="#ff80ff"/><path d="M633.5 127.5L636.5 130.5L633.5 133.5L630.5 130.5Z" stroke="#ff80ff" fill="#ff80ff"/>
</g>
<g class="s" shape-rendering="crispEdges">
<text x="129.3 135.3 141.3 147.3 153.3 159.3 165.3 171.3 177.3 183.3 189.3 195.3 201.3 207.3 213.3 219.3 225.3 231.3 237.3 243.3 249.3 255.3 261.3 267.3 273.3 279.3 285.3 291.3 297.3 303.3 309.3 315.3 321.3 327.3 333.3 339.3 345.3 351.3" y="222.2">United States :: Ohio :: North Central</text>
<path d="M361 217.5H390" stroke="#00c060" stroke-width="1" fill="none"/>
<path d="M372 217.5H379M375.5 214V221" stroke="#00c060" fill="none"/>
<polyline points="73.5,522.5 92.5,514.5 112.5,509.5 131.5,500.5 150.5,498.5 170.5,488.5 189.5,483.5 208.5,480.5 228.5,473.5 247.5,466.5 266.5,464.5 285.5,455.5 305.5,446.5 324.5,427.5 343.5,375.5 363.5,371.5 382.5,360.5 401.5,346.5 421.5,340.5 440.5,332.5 459.5,319.5 479.5,308.5 498.5,304.5 517.5,298.5 537.5,271.5 556.5,250.5 575.5,243.5 594.5,237.5 614.5,229.5 633.5,134.5" stroke="#00c060" stroke-width="1" fill="none" stroke-linejoin="round"/>
<path d="M70 522.5H77M73.5 519V526" stroke="#00c060" fill="none"/><path d="M89 514.5H96M92.5 511V518" stroke="#00c060" fill="none"/><path d="M109 509.5H116M112.5 506V513" stroke="#00c060" fill="none"/><path d="M128 500.5H135M131.5 497V504" stroke="#00c060" fill="none"/><path d="M147 498.5H154M150.5 495V502" stroke="#00c060" fill="none"/><path d="M167 488.5H174M170.5 485V492" stroke="#00c060" fill="none"/><path d="M186 483.5H193M189.5 480V487" stroke="#00c060" fill="none"/><path d="M205 480.5H212M208.5 477V484" stroke="#00c060" fill="none"/><path d="M225 473.5H232M228.5 470V477" stroke="#00c060" fill="none"/><path d="M244 466.5H251M247.5 463V470" stroke="#00c060" fill="none"/><path d="M263 464.5H270M266.5 461V468" stroke="#00c060" fill="none"/><path d="M282 455.5H289M285.5 452V459" stroke="#00c060" fill="none"/><path d="M302 446.5H309M305.5 443V450" stroke="#00c060" fill="none"/><path d="M321 427.5H328M324.5 424V431" stroke="#00c060" fill="none"/><path d="M340 375.5H347M343.5 372V379" stroke="#00c060" fill="none"/><path d="M360 371.5H367M363.5 368V375" stroke="#00c060" fill="none"/><path d="M379 360.5H386M382.5 357V364" stroke="#00c060" fill="none"/><path d="M398 346.5H405M401.5 343V350" stroke="#00c060" fill="none"/><path d="M418 340.5H425M421.5 337V344" stroke="#00c060" fill="none"/><path d="M437 332.5H444M440.5 329V336" stroke="#00c060" fill="none"/><path d="M456 319.5H463M459.5 316V323" stroke="#00c060" fill="none"/><path d="M476 308.5H483M479.5 305V312" stroke="#00c060" fill="none"/><path d="M495 304.5H502M498.5 301V308" stroke="#00c060" fill="none"/><path d="M514 298.5H521M517.5 295V302" stroke="#00c060" fill="none"/><path d="M534 271.5H541M537.5 268V275" stroke="#00c060" fill="none"/><path d="M553 250.5H560M556.5 247V254" stroke="#00c060" fill="none"/><path d="M572 243.5H579M575.5 240V247" stroke="#00c060" fill="none"/><path d="M591 237.5H598M594.5 234V241" stroke="#00c060" fill="none"/><path d="M611 229.5H618M614.5 226V233" stroke="#00c060" fill="none"/><path d="M630 134.5H637M633.5 131V138" stroke="#00c060" fill="none"/>
</g>
<g class="s" shape-rendering="crispEdges">
<text x="189.3 195.3 201.3 207.3 213.3 219.3 225.3 231.3 237.3 243.3 249.3 255.3 261.3 267.3 273.3 279.3 285.3 291.3 297.3 303.3 309.3 315.3 321.3 327.3 333.3 339.3 345.3 351.3" y="235.2">United States :: Puerto Rico</text>
<path d="M361 230.5H390" stroke="#00c0c0" stroke-width="1" fill="none"/>
<path d="M372 227L379 234M372 234L379 227" stroke="#00c0c0" fill="none"/>
<polyline points="73.5,522.5 92.5,511.5 112.5,499.5 131.5,486.5 150.5,472.5 170.5,452.5 189.5,435.5 208.5,424.5 228.5,415.5 247.5,392.5 266.5,349.5 285.5,342.5 305.5,325.5 324.5,313.5 343.5,309.5 363.5,296.5 382.5,274.5 401.5,262.5 421.5,247.5 440.5,230.5 459.5,220.5 479.5,215.5 498.5,210.5 517.5,200.5 537.5,192.5 556.5,195.5 575.5,184.5 594.5,173.5 614.5,162.5 633.5,134.5" stroke="#00c0c0" stroke-width="1" fill="none" stroke-linejoin="round"/>
<path d="M70 519L77 526M70 526L77 519" stroke="#00c0c0" fill="none"/><path d="M89 508L96 515M89 515L96 508" stroke="#00c0c0" fill="none"/><path d="M109 496L116 503M109 503L116 496" stroke="#00c0c0" fill="none"/><path d="M128 483L135 490M128 490L135 483" stroke="#00c0c0" fill="none"/><path d="M147 469L154 476M147 476L154 469" stroke="#00c0c0" fill="none"/><path d="M167 449L174 456M167 456L174 449" stroke="#00c0c0" fill="none"/><path d="M186 432L193 439M186 439L193 432" stroke="#00c0c0" fill="none"/><path d="M205 421L212 428M205 428L212 421" stroke="#00c0c0" fill="none"/><path d="M225 412L232 419M225 419L232 412" stroke="#00c0c0" fill="none"/><path d="M244 389L251 396M244 396L251 389" stroke="#00c0c0" fill="none"/><path d="M263 346L270 353M263 353L270 346" stroke="#00c0c0" fill="none"/><path d="M282 339L289 346M282 346L289 339" stroke="#00c0c0" fill="none"/><path d="M302 322L309 329M302 329L309 322" stroke="#00c0c0" fill="none"/><path d="M321 310L328 317M321 317L328 310" stroke="#00c0c0" fill="none"/><path d="M340 306L347 313M340 313L347 306" stroke="#00c0c0" fill="none"/><path d="M360 293L367 300M360 300L367 293" stroke="#00c0c0" fill="none"/><path d="M379 271L386 278M379 278L386 271" stroke="#00c0c0" fill="none"/><path d="M398 259L405 266M398 266L405 259" stroke="#00c0c0" fill="none"/><path d="M418 244L425 251M418 251L425 244" stroke="#00c0c0" fill="none"/><path d="M437 227L444 234M437 234L444 227" stroke="#00c0c0" fill="none"/><path d="M456 217L463 224M456 224L463 217" stroke="#00c0c0" fill="none"/><path d="M476 212L483 219M476 219L483 212" stroke="#00c0c0" fill="none"/><path d="M495 207L502 214M495 214L502 207" stroke="#00c0c0" fill="none"/><path d="M514 197L521 204M514 204L521 197" stroke="#00c0c0" fill="none"/><path d="M534 189L541 196M534 196L541 189" stroke="#00c0c0" fill="none"/><path d="M553 192L560 199M553 199L560 192" stroke="#00c0c0" fill="none"/><path d="M572 181L579 188M572 188L579 181" stroke="#00c0c0" fill="none"/><path d="M591 170L598 177M591 177L598 170" stroke="#00c0c0" fill="none"/><path d="M611 159L618 166M611 166L618 159" stroke="#00c0c0" fill="none"/><path d="M630 131L637 138M630 138L637 131" stroke="#00c0c0" fill="none"/>
</g>
<rect x="73.5" y="38.5" width="676.0" height="485.0" stroke="#000" stroke-width="1" fill="none" shape-rendering="crispEdges"/>
<text x="63.8" y="528.0" class="n">0</text>
<text x="33.8 39.8 45.8 51.8 57.8 63.8" y="458.7" class="n">100000</text>
<text x="33.8 39.8 45.8 51.8 57.8 63.8" y="389.4" class="n">200000</text>
<text x="33.8 39.8 45.8 51.8 57.8 63.8" y="320.1" class="n">300000</text>
<text x="33.8 39.8 45.8 51.8 57.8 63.8" y="250.9" class="n">400000</text>
<text x="33.8 39.8 45.8 51.8 57.8 63.8" y="181.6" class="n">500000</text>
<text x="33.8 39.8 45.8 51.8 57.8 63.8" y="112.3" class="n">600000</text>
<text x="33.8 39.8 45.8 51.8 57.8 63.8" y="43.0" class="n">700000</text>
<text x="45.8 51.8 57.8 63.8 69.8 75.8 81.8 87.8 93.8 99.8" y="540.7" class="n">2008-11-01</text>
<text x="181.0 187.0 193.0 199.0 205.0 211.0 217.0 223.0 229.0 235.0" y="540.7" class="n">2008-11-08</text>
<text x="316.2 322.2 328.2 334.2 340.2 346.2 352.2 358.2 364.2 370.2" y="540.7" class="n">2008-11-15</text>
<text x="451.4 457.4 463.4 469.4 475.4 481.4 487.4 493.4 499.4 505.4" y="540.7" class="n">2008-11-22</text>
<text x="586.6 592.6 598.6 604.6 610.6 616.6 622.6 628.6 634.6 640.6" y="540.7" class="n">2008-11-29</text>
<text x="721.8 727.8 733.8 739.8 745.8 751.8 757.8 763.8 769.8 775.8" y="540.7" class="n">2008-12-06</text>
<text x="317.8 323.8 329.8 335.8 341.8 347.8 353.8 359.8 365.8 371.8 377.8 383.8 389.8 395.8 401.8 407.8 413.8 419.8 425.8 431.8 437.8 443.8 449.8 455.8 461.8 467.8 473.8 479.8 485.8 491.8 497.8 503.8" y="22.8">UnitedStates::NewMexico::SantaFe</text>
<text x="398.6 404.6 410.6 416.6 422.6" y="559.6">Dates</text>
<text x="21.8 27.8 33.8 39.8 45.8 51.8 57.8 63.8 69.8 75.8 81.8 87.8 93.8 99.8 105.8 111.8 117.8 123.8 129.8 135.8 141.8 147.8 153.8 159.8" y="573.0">Tue Dec <tspan class="n">09</tspan> <tspan class="n">22</tspan>:<tspan class="n">43</tspan>:<tspan class="n">30</tspan> <tspan class="n">2008</tspan></text>
<text x="-1.2 4.8 10.8 16.8 22.8 28.8 34.8" y="281.8" transform="rotate(-90 17.0 281.8)"># words</text>
</svg>
</body>
</html>
